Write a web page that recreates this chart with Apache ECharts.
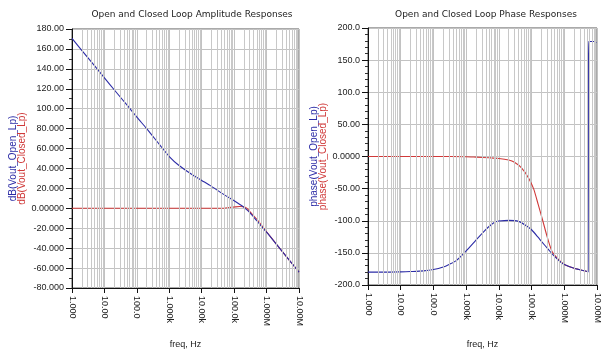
<!DOCTYPE html>
<html><head><meta charset="utf-8">
<script src="https://cdn.jsdelivr.net/npm/echarts@6/dist/echarts.min.js"></script>
<style>html,body{margin:0;padding:0;background:#fff}#c{width:603px;height:356px}</style>
</head><body><div id="c"></div>
<script>
// ---- tick labels ----
const freqTickLabels = ['1.000','10.00','100.0','1.000k','10.00k','100.0k','1.000M','10.00M'];
const ampTickLabels = ['-80.000','-60.000','-40.000','-20.000','0.00000','20.000','40.000','60.000','80.000','100.00','120.00','140.00','160.00','180.00'];
const phaseTickLabels = ['-200.0','-150.0','-100.0','-50.00','0.0000','50.00','100.0','150.0','200.0'];

// ---- amplitude (dB) ----
const ampOpenFreq = [1,2,5,10,20,50,100,200,500,1e3,2e3,5e3,1e4,2e4,5e4,1e5,1.5e5,2e5,3e5,5e5,1e6,2e6,5e6,1e7];
const ampOpenVal  = [170.5,158.6,143,131,119,103.5,91.5,80,64,52,43,34,28,22,13.5,7.5,3.8,1,-4,-12.5,-24,-36,-52,-64];
const ampClosedFreq = [1,10,100,1e3,1e4,5e4,7e4,1e5,1.5e5,2e5,2.5e5,3e5,5e5,7e5,1e6,2e6,5e6,1e7];
const ampClosedVal  = [0,0,0,0,0,0,0.8,1.3,1.8,1.5,0,-3,-11,-17,-23.5,-36,-52,-64];

// ---- phase (deg) ----
const phaseOpenFreq = [1,3,10,20,50,100,200,300,500,1e3,2e3,3.3e3,5e3,7.6e3,1e4,2e4,4e4,8e4,1e5,1.6e5,2e5,3.3e5,4.7e5,8e5,1e6,2e6,5e6,5.35e6,5.45e6,5.55e6,8.5e6,9.5e6];
const phaseOpenVal  = [-180,-180,-179.5,-179,-178,-176,-172,-168,-162,-147,-130,-118,-109,-102,-100.5,-99.4,-101,-110,-114,-126,-132,-145,-154,-165,-168,-174,-179,-179.5,88,179,179,177];
const phaseClosedFreq = [1,100,1e3,2e3,5e3,1e4,2e4,3e4,5e4,8e4,1.15e5,1.6e5,2.2e5,3e5,4.15e5,5e5,6.6e5,8e5,1e6,2e6,5e6];
const phaseClosedVal  = [0,0,-0.3,-1,-2,-3,-5.5,-9,-18,-33,-50,-75,-100,-125,-147,-153,-160,-164,-168,-174,-179];

const pairs = (xs, ys) => xs.map((x, i) => [x, ys[i]]);
const BLUE = '#2c2ca6', RED = '#d03a3a';
const FONT = 'Liberation Sans';

function minorLines() {
  const out = [];
  for (let d = 0; d < 7; d++) for (let k = 2; k <= 9; k++) out.push({ xAxis: k * Math.pow(10, d) });
  return out;
}

function xAxisCfg(gi, gap) {
  return {
    type: 'log', gridIndex: gi, min: 1, max: 1e7, logBase: 10, splitNumber: 7,
    name: 'freq, Hz', nameLocation: 'middle', nameGap: gap,
    nameTextStyle: { fontFamily: FONT, fontSize: 9, color: '#222' },
    axisLine: { show: true, onZero: false, lineStyle: { color: '#111', width: 1 } },
    axisTick: { show: true, inside: false, length: 5, lineStyle: { color: '#111' } },
    minorTick: { show: false },
    axisLabel: {
      rotate: -90, margin: 8, fontFamily: FONT, fontSize: 9, color: '#222',
      formatter: v => freqTickLabels[Math.round(Math.log10(v))]
    },
    splitLine: { show: true, lineStyle: { color: '#c2c2c2', width: 1 } }
  };
}

function yAxisCfg(gi, min, max, interval, labels, minorSplit, nameBase, gap) {
  return {
    type: 'value', gridIndex: gi, min, max, interval,
    name: '{b|' + nameBase + '(Vout_Open_Lp)}\n{r|' + nameBase + '(Vout_Closed_Lp)}',
    nameLocation: 'middle', nameRotate: 90, nameGap: gap,
    nameTextStyle: {
      fontFamily: FONT, fontSize: 10, lineHeight: 9,
      rich: { b: { color: BLUE, fontFamily: FONT, fontSize: 10, lineHeight: 9 },
              r: { color: RED, fontFamily: FONT, fontSize: 10, lineHeight: 9 } }
    },
    axisLine: { show: true, onZero: false, lineStyle: { color: '#111', width: 1 } },
    axisTick: { show: true, inside: false, length: 6, lineStyle: { color: '#111' } },
    minorTick: { show: true, splitNumber: minorSplit, length: 3, lineStyle: { color: '#333' } },
    axisLabel: {
      margin: 8, fontFamily: FONT, fontSize: 9, color: '#222',
      formatter: v => labels[Math.round((v - min) / interval)]
    },
    splitLine: { show: true, lineStyle: { color: '#c2c2c2', width: 1 } }
  };
}

function gridSeries(xi, yi) {
  return {
    type: 'line', xAxisIndex: xi, yAxisIndex: yi, data: [], z: 1, silent: true,
    markLine: {
      silent: true, symbol: ['none', 'none'], label: { show: false }, animation: false,
      lineStyle: { color: '#c8c8c8', width: 1, type: 'solid' },
      data: minorLines()
    }
  };
}

function lineSeries(xi, yi, data, color, z) {
  return {
    type: 'line', xAxisIndex: xi, yAxisIndex: yi, data, z,
    showSymbol: false, symbol: 'none', smooth: 0.25,
    lineStyle: { color, width: 1.1 }, clip: true
  };
}

const chart = echarts.init(document.getElementById('c'), null, { renderer: 'canvas' });
chart.setOption({
  animation: false,
  backgroundColor: '#fff',
  title: [
    { text: 'Open and Closed Loop Amplitude Responses', left: 192, top: 10, textAlign: 'center', padding: 0,
      textStyle: { fontFamily: 'DejaVu Sans', fontSize: 9, fontWeight: 'normal', color: '#222' } },
    { text: 'Open and Closed Loop Phase Responses', left: 486, top: 10, textAlign: 'center', padding: 0,
      textStyle: { fontFamily: 'DejaVu Sans', fontSize: 9, fontWeight: 'normal', color: '#222' } }
  ],
  grid: [
    { left: 72, top: 29, width: 227, height: 259, show: true, borderColor: '#555', borderWidth: 1, backgroundColor: '#fff' },
    { left: 368, top: 28, width: 229, height: 257, show: true, borderColor: '#555', borderWidth: 1, backgroundColor: '#fff' }
  ],
  xAxis: [xAxisCfg(0, 52), xAxisCfg(1, 55)],
  yAxis: [
    yAxisCfg(0, -80, 180, 20, ampTickLabels, 2, 'dB', 40),
    yAxisCfg(1, -200, 200, 50, phaseTickLabels, 5, 'phase', 39)
  ],
  series: [
    gridSeries(0, 0),
    gridSeries(1, 1),
    lineSeries(0, 0, pairs(ampClosedFreq, ampClosedVal), RED, 3),
    lineSeries(0, 0, pairs(ampOpenFreq, ampOpenVal), BLUE, 4),
    lineSeries(1, 1, pairs(phaseClosedFreq, phaseClosedVal), RED, 3),
    lineSeries(1, 1, pairs(phaseOpenFreq, phaseOpenVal), BLUE, 4)
  ]
});
</script>
</body></html>
